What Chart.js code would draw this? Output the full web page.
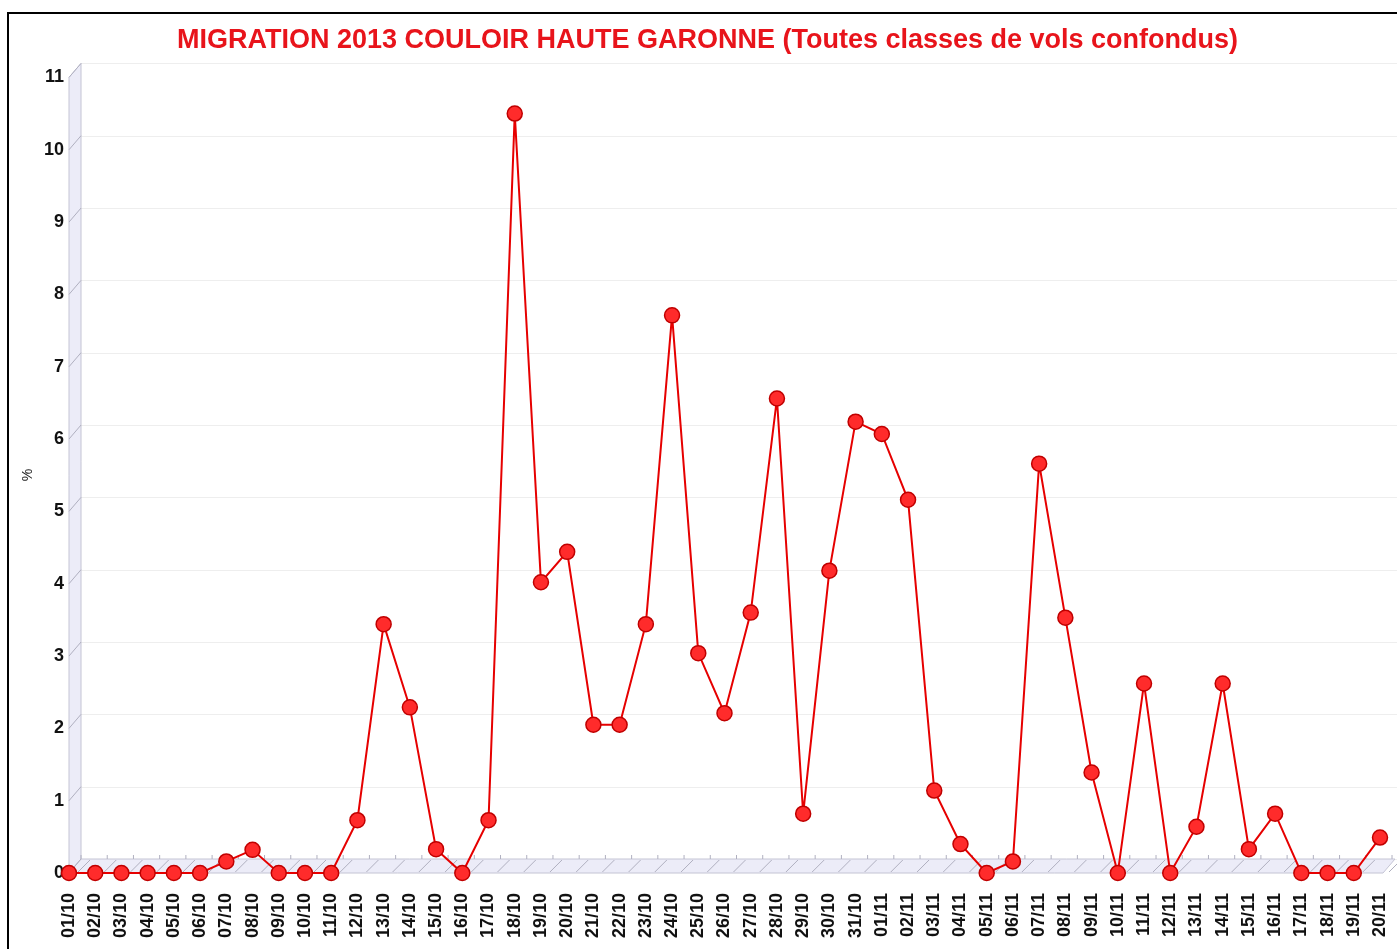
<!DOCTYPE html>
<html>
<head>
<meta charset="utf-8">
<script src="https://cdn.jsdelivr.net/npm/chart.js@4/dist/chart.umd.min.js"></script>
<style>
  html, body { margin: 0; padding: 0; background: #fff; overflow: hidden; }
  canvas { display: block; }
</style>
</head>
<body>
<canvas id="migrationChart" width="1397" height="949"></canvas>
<script>
const days = [
    '01/10', '02/10', '03/10', '04/10', '05/10', '06/10', '07/10', '08/10', '09/10', '10/10',
    '11/10', '12/10', '13/10', '14/10', '15/10', '16/10', '17/10', '18/10', '19/10', '20/10',
    '21/10', '22/10', '23/10', '24/10', '25/10', '26/10', '27/10', '28/10', '29/10', '30/10',
    '31/10', '01/11', '02/11', '03/11', '04/11', '05/11', '06/11', '07/11', '08/11', '09/11',
    '10/11', '11/11', '12/11', '13/11', '14/11', '15/11', '16/11', '17/11', '18/11', '19/11',
    '20/11'
];
const percents = [
    0, 0, 0, 0, 0, 0, 0.16, 0.32, 0, 0,
    0, 0.73, 3.44, 2.29, 0.33, 0, 0.73, 10.5, 4.02, 4.44,
    2.05, 2.05, 3.44, 7.71, 3.04, 2.21, 3.6, 6.56, 0.82, 4.18,
    6.24, 6.07, 5.16, 1.14, 0.4, 0, 0.16, 5.66, 3.53, 1.39,
    0, 2.62, 0, 0.64, 2.62, 0.33, 0.82, 0, 0, 0,
    0.49
];
const yTicks = [0, 1, 2, 3, 4, 5, 6, 7, 8, 9, 10, 11];

const chartTitle = 'MIGRATION 2013 COULOIR HAUTE GARONNE (Toutes classes de vols confondus)';
const yTitle = '%';

// fake 3D wall + floor, frame and the "%" label
const DEPTH_X = 12, DEPTH_Y = 14;
const backdrop = {
    id: 'backdrop',
    beforeDatasetsDraw(chart) {
        const { ctx, chartArea: a, scales } = chart;
        ctx.save();

        // back wall grid lines
        ctx.strokeStyle = '#eeeeee';
        ctx.lineWidth = 1;
        yTicks.forEach(v => {
            const y = Math.round(scales.y.getPixelForValue(v) - DEPTH_Y) + 0.5;
            ctx.beginPath();
            ctx.moveTo(a.left + DEPTH_X, y);
            ctx.lineTo(chart.width, y);
            ctx.stroke();
        });

        ctx.fillStyle = '#ececf8';
        ctx.strokeStyle = '#c4c4d4';

        // left wall
        ctx.beginPath();
        ctx.moveTo(a.left, a.bottom);
        ctx.lineTo(a.left, a.top);
        ctx.lineTo(a.left + DEPTH_X, a.top - DEPTH_Y);
        ctx.lineTo(a.left + DEPTH_X, a.bottom - DEPTH_Y);
        ctx.closePath();
        ctx.fill();
        ctx.stroke();

        // floor
        ctx.beginPath();
        ctx.moveTo(a.left, a.bottom);
        ctx.lineTo(a.right + 3, a.bottom);
        ctx.lineTo(a.right + 3 + DEPTH_X, a.bottom - DEPTH_Y);
        ctx.lineTo(a.left + DEPTH_X, a.bottom - DEPTH_Y);
        ctx.closePath();
        ctx.fill();
        ctx.stroke();

        // little diagonal marks on wall and floor
        ctx.strokeStyle = '#b0b0c0';
        yTicks.forEach(v => {
            const y = scales.y.getPixelForValue(v);
            ctx.beginPath();
            ctx.moveTo(a.left, y);
            ctx.lineTo(a.left + DEPTH_X, y - DEPTH_Y);
            ctx.stroke();
        });
        days.forEach((d, i) => {
            const x = scales.x.getPixelForValue(i) + 13;
            ctx.beginPath();
            ctx.moveTo(x - 4, a.bottom - 1);
            ctx.lineTo(x + DEPTH_X - 4, a.bottom - DEPTH_Y + 1);
            ctx.stroke();
            ctx.beginPath();
            ctx.moveTo(x - 1, a.bottom - DEPTH_Y);
            ctx.lineTo(x - 1, a.bottom - DEPTH_Y - 4);
            ctx.stroke();
        });

        ctx.restore();
    },
    afterDraw(chart) {
        const { ctx } = chart;
        ctx.save();
        ctx.strokeStyle = '#000';
        ctx.lineWidth = 2;
        ctx.strokeRect(8, 13, 1500, 1000);

        ctx.translate(28, 475);
        ctx.rotate(-Math.PI / 2);
        ctx.fillStyle = '#222';
        ctx.font = '14px "Liberation Sans", Arial, sans-serif';
        ctx.textAlign = 'center';
        ctx.textBaseline = 'middle';
        ctx.fillText(yTitle, 0, 0);
        ctx.restore();
    }
};

const ctx = document.getElementById('migrationChart').getContext('2d');
const migrationChart = new Chart(ctx, {
    type: 'line',
    data: {
        labels: days,
        datasets: [{
            label: yTitle,
            data: percents,
            borderColor: '#e60000',
            borderWidth: 2,
            tension: 0,
            pointRadius: 7.5,
            pointBackgroundColor: '#ff2b2b',
            pointBorderColor: '#c00000',
            pointBorderWidth: 1.5,
            clip: false
        }]
    },
    options: {
        responsive: false,
        animation: false,
        layout: {
            padding: { left: 35, right: 17, top: 0, bottom: 0 }
        },
        scales: {
            x: {
                offset: false,
                grid: { display: false, drawTicks: false },
                border: { display: false },
                afterFit: (scale) => {
                    scale.height = 76;
                    scale.paddingLeft = 0;
                    scale.paddingRight = 0;
                },
                ticks: {
                    autoSkip: false,
                    minRotation: 90,
                    maxRotation: 90,
                    padding: 20,
                    color: '#111',
                    font: { family: '"Liberation Sans", Arial, sans-serif', size: 18, weight: 'bold' }
                }
            },
            y: {
                min: 0,
                max: 11,
                grid: { display: false, drawTicks: false },
                border: { display: false },
                afterFit: (scale) => { scale.width = 34; },
                ticks: {
                    stepSize: 1,
                    padding: 5,
                    color: '#111',
                    font: { family: '"Liberation Sans", Arial, sans-serif', size: 18, weight: 'bold' }
                }
            }
        },
        plugins: {
            legend: { display: false },
            tooltip: { enabled: false },
            title: {
                display: true,
                text: chartTitle,
                color: '#e8141b',
                padding: { top: 24, bottom: 21 },
                font: { family: '"Liberation Sans", Arial, sans-serif', size: 27, weight: 'bold' }
            }
        }
    },
    plugins: [backdrop]
});
</script>
</body>
</html>
